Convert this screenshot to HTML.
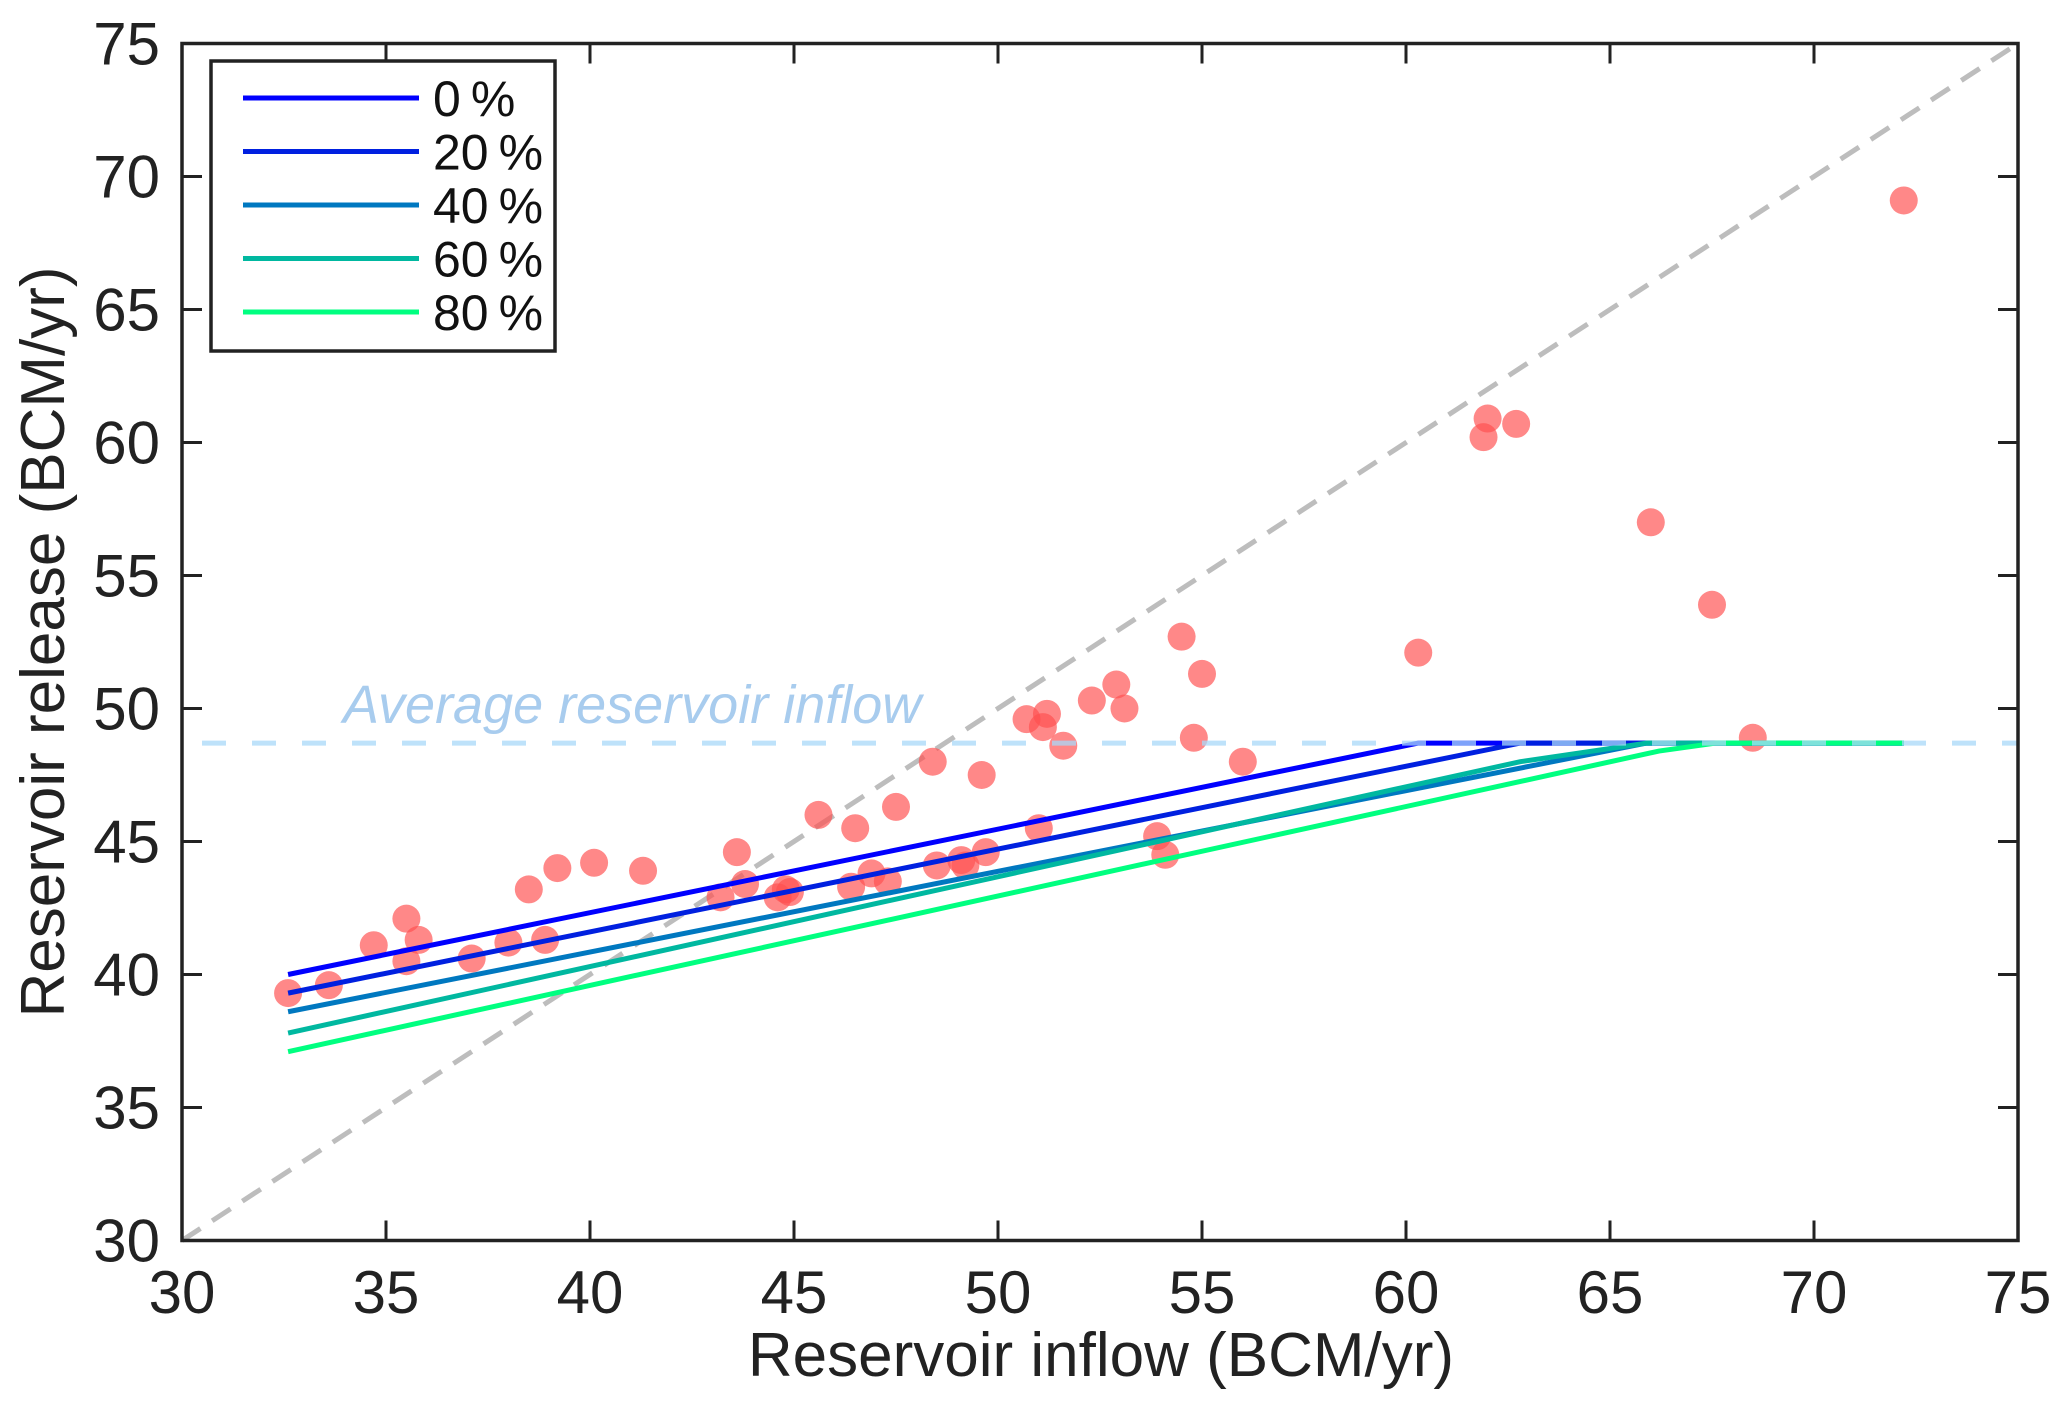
<!DOCTYPE html>
<html><head><meta charset="utf-8"><style>
body{margin:0;background:#fff}
svg{display:block;font-family:"Liberation Sans",sans-serif}
</style></head><body>
<svg id="chart" width="2067" height="1410" viewBox="0 0 2067 1410">
<g id="grid-layer"></g>
</svg>
<script>
const xTicks=[30,35,40,45,50,55,60,65,70,75];
const yTicks=[30,35,40,45,50,55,60,65,70,75];
const seriesNames=["0%","20%","40%","60%","80%"];
const seriesColors=["#0000ff","#0020e0","#0078c0","#00b8a0","#00ff80"];
const s0x=[32.6,60.3,72.2], s0y=[40.0,48.7,48.7];
const s1x=[32.6,62.8,72.2], s1y=[39.3,48.7,48.7];
const s2x=[32.6,65.9,72.2], s2y=[38.6,48.7,48.7];
const s3x=[32.6,62.8,65.9,72.2], s3y=[37.8,48.0,48.7,48.7];
const s4x=[32.6,66.2,67.6,72.2], s4y=[37.1,48.4,48.7,48.7];
const avgInflow=48.7;
const obsX=[32.6,33.6,34.7,35.5,35.5,35.8,37.1,38.0,38.5,38.9,39.2,40.1,41.3,43.2,43.6,43.8,44.6,44.8,44.9,45.6,46.4,46.5,46.9,47.3,47.5,48.4,48.5,49.1,49.2,49.6,49.7,50.7,51.0,51.1,51.2,51.6,52.3,52.9,53.1,53.9,54.1,54.5,54.8,55.0,56.0,60.3,61.9,62.0,62.7,66.0,67.5,68.5,72.2];
const obsY=[39.3,39.6,41.1,42.1,40.5,41.3,40.6,41.2,43.2,41.3,44.0,44.2,43.9,42.9,44.6,43.4,42.9,43.2,43.1,46.0,43.3,45.5,43.8,43.5,46.3,48.0,44.1,44.3,44.1,47.5,44.6,49.6,45.5,49.3,49.8,48.6,50.3,50.9,50.0,45.2,44.5,52.7,48.9,51.3,48.0,52.1,60.2,60.9,60.7,57.0,53.9,48.9,69.1];

const L=182,R=2018,T=43.5,B=1240.5;
const xs=v=>L+(v-30)/45*(R-L);
const ys=v=>B-(v-30)/45*(B-T);
const svg=document.getElementById('chart');
const NS="http://www.w3.org/2000/svg";
function mk(tag,attrs,parent){const e=document.createElementNS(NS,tag);for(const k in attrs)e.setAttribute(k,attrs[k]);(parent||svg).appendChild(e);return e;}

let d=mk('line',{x1:xs(30),y1:ys(30),x2:xs(75),y2:ys(75),stroke:'#bdbdbd','stroke-width':5,'stroke-dasharray':'22 14'});



obsX.forEach((x,i)=>{
 const c=mk('circle',{cx:xs(x),cy:ys(obsY[i]),r:14,fill:'#ff5050','fill-opacity':0.68});
 
 
});

const SX=[s0x,s1x,s2x,s3x,s4x],SY=[s0y,s1y,s2y,s3y,s4y];
SX.forEach((arr,k)=>{
 const pts=arr.map((x,i)=>xs(x)+','+ys(SY[k][i])).join(' ');
 const p=mk('polyline',{points:pts,fill:'none',stroke:seriesColors[k],'stroke-width':5});
 
 
});

let a=mk('line',{x1:xs(30)+20,y1:ys(avgInflow),x2:R,y2:ys(avgInflow),stroke:'#a8d8f8','stroke-opacity':0.75,'stroke-width':5,'stroke-dasharray':'24 26'});


let at=mk('text',{x:343,y:723,'font-size':54,'font-style':'italic',fill:'#a8ccee'});
at.textContent='Average reservoir inflow';



let bx=mk('rect',{x:L,y:T,width:R-L,height:B-T,fill:'none',stroke:'#222','stroke-width':3.5});



xTicks.forEach(v=>{
 const x=xs(v);
 const t1=mk('line',{x1:x,y1:B,x2:x,y2:B-20,stroke:'#222','stroke-width':3});
 
 
 const t2=mk('line',{x1:x,y1:T,x2:x,y2:T+20,stroke:'#222','stroke-width':3});
 
 
 const tl=mk('text',{x:x,y:1313,'font-size':60,'text-anchor':'middle',fill:'#222'});
 tl.textContent=v;
 
 
});
yTicks.forEach(v=>{
 const y=ys(v);
 const t1=mk('line',{x1:L,y1:y,x2:L+20,y2:y,stroke:'#222','stroke-width':3});
 
 
 const t2=mk('line',{x1:R,y1:y,x2:R-20,y2:y,stroke:'#222','stroke-width':3});
 
 
 const tl=mk('text',{x:160,y:y+21,'font-size':60,'text-anchor':'end',fill:'#222'});
 tl.textContent=v;
 
 
});

let xl=mk('text',{x:1101,y:1376,'font-size':62,'text-anchor':'middle',fill:'#222'});
xl.textContent='Reservoir inflow (BCM/yr)';


let yl=mk('text',{x:0,y:0,'font-size':62,'text-anchor':'middle',fill:'#222',transform:'translate(64,642) rotate(-90)'});
yl.textContent='Reservoir release (BCM/yr)';



const lg=mk('g',{});


const lb=mk('rect',{x:211,y:61,width:344,height:290,fill:'#fff',stroke:'#222','stroke-width':3.5},lg);


seriesNames.forEach((n,k)=>{
 const y=98+k*53.5;
 const ln=mk('line',{x1:243,y1:y,x2:419,y2:y,stroke:seriesColors[k],'stroke-width':5},lg);
 
 
 const tx=mk('text',{x:433,y:y+18,'font-size':50,fill:'#111'},lg);
 tx.textContent=n.replace('%','\u2009%');
 
 
});
</script>
</body></html>
